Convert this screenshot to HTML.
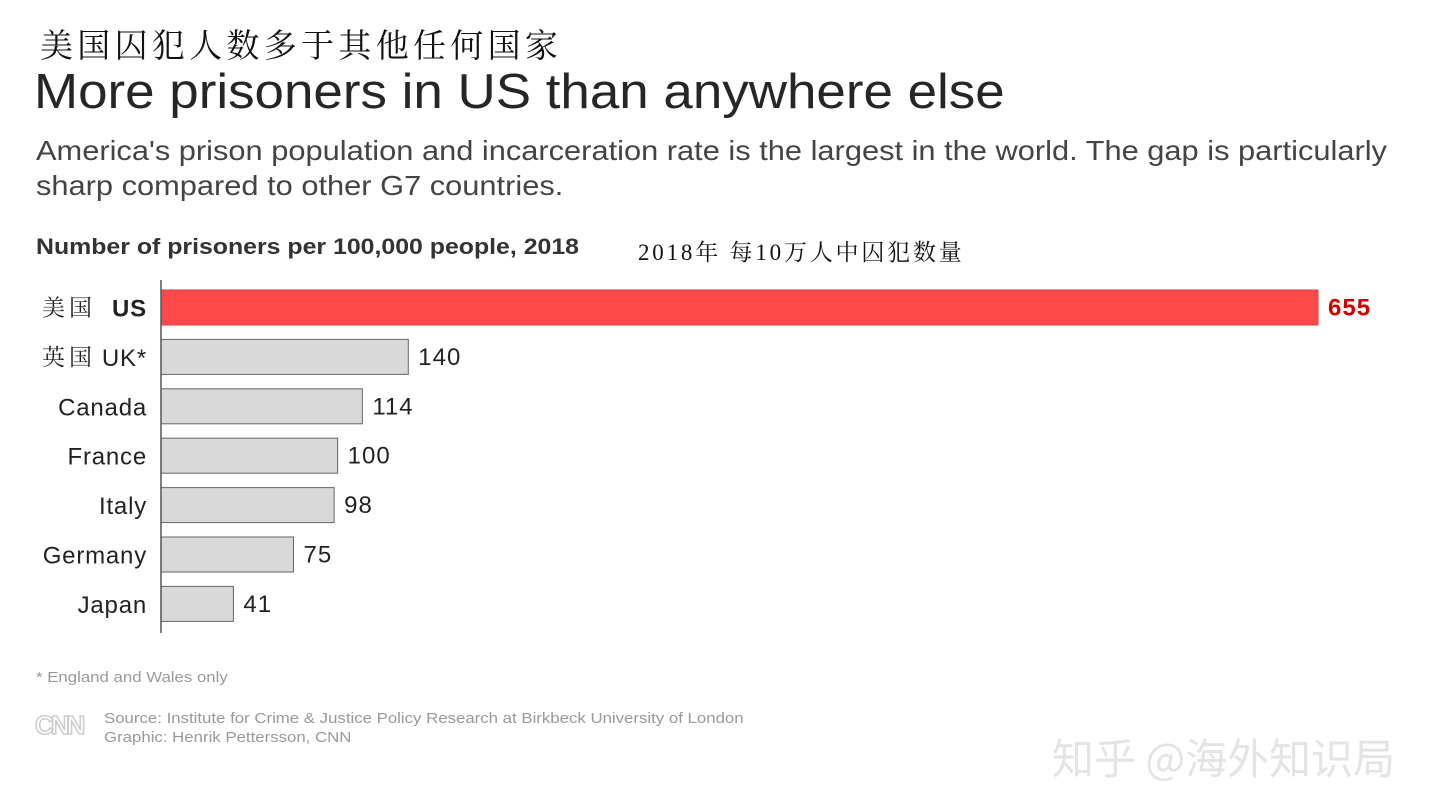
<!DOCTYPE html>
<html><head><meta charset="utf-8"><style>
body{margin:0;width:1440px;height:810px;background:#fff;overflow:hidden;position:relative;font-family:"Liberation Sans","Noto Sans CJK SC",sans-serif;}
.a{position:absolute;white-space:nowrap;transform-origin:0 0;}
</style></head><body>
<div class="a" style="left:40px;top:20px;font-size:33px;font-family:'Liberation Serif','Noto Serif CJK SC',serif;color:#111;letter-spacing:4.3px">美国囚犯人数多于其他任何国家</div>
<div class="a" style="left:34px;top:64px;font-size:49px;color:#262626;transform:scaleX(1.08)">More prisoners in US than anywhere else</div>
<div class="a" style="left:36px;top:133px;font-size:27.5px;line-height:35px;color:#444;transform:scaleX(1.12)">America's prison population and incarceration rate is the largest in the world. The gap is particularly<br>sharp compared to other G7 countries.</div>
<div class="a" style="left:36px;top:234px;font-size:22px;font-weight:bold;color:#333;transform:scaleX(1.13)">Number of prisoners per 100,000 people, 2018</div>
<div class="a" style="left:638px;top:234px;font-size:23px;font-family:'Liberation Serif','Noto Serif CJK SC',serif;color:#111;letter-spacing:2.8px">2018年 每10万人中囚犯数量</div>
<svg class="a" style="left:0;top:0" width="1440" height="810" id="chart"></svg>
<div class="a" style="left:36px;top:669px;font-size:15px;color:#999;transform:scaleX(1.12)">* England and Wales only</div>
<div class="a" style="left:35px;top:710px;font-size:26px;font-weight:bold;color:#fff;-webkit-text-stroke:1.5px #ccc;letter-spacing:-3px">CNN</div>
<div class="a" style="left:104px;top:709px;font-size:15px;line-height:19px;color:#999;transform:scaleX(1.12)">Source: Institute for Crime &amp; Justice Policy Research at Birkbeck University of London<br>Graphic: Henrik Pettersson, CNN</div>
<div class="a" style="left:1052px;top:726px;font-size:42px;color:#e4e4e4;font-family:'Noto Sans CJK SC',sans-serif">知乎 @海外知识局</div>
<script>
const categories=["US","UK*","Canada","France","Italy","Germany","Japan"];
const cnLabels=["美国","英国","","","","",""];
const values=[655,140,114,100,98,75,41];
const svg=document.getElementById('chart');
const NS='http://www.w3.org/2000/svg';
const x0=161,scale=1157/655,top0=290,step=49.4,bh=35;
const x=v=>x0+v*scale;
const y=i=>top0+i*step;
function mk(t,a){const e=document.createElementNS(NS,t);for(const k in a)e.setAttribute(k,a[k]);svg.appendChild(e);return e;}
values.forEach((v,i)=>{
 const us=i===0;
 const r=mk('rect',{x:x0,y:y(i),width:x(v)-x0,height:bh,fill:us?'#fe4a49':'#d9d9d9',stroke:us?'#c44':'#666','stroke-width':1});
 
 
 const vt=mk('text',{x:x(v)+10,y:y(i)+bh/2+8,'font-size':24,fill:us?'#cc0000':'#222','font-weight':us?'bold':'normal','letter-spacing':1});
 vt.textContent=v;
 
 
 const lt=mk('text',{x:147,y:y(i)+bh/2+9,'font-size':24,'text-anchor':'end',fill:'#222','font-weight':us?'bold':'normal','letter-spacing':0.8});
 lt.textContent=categories[i];
 
 
 if(cnLabels[i]){
  const ct=mk('text',{x:42,y:y(i)+bh/2+8,'font-size':23,fill:'#222','font-family':"'Liberation Serif','Noto Serif CJK SC',serif",'letter-spacing':4});
  ct.textContent=cnLabels[i];
  
  
 }
});
const ax=mk('line',{x1:x0,x2:x0,y1:280,y2:633,stroke:'#555','stroke-width':1.5});


</script>
</body></html>
